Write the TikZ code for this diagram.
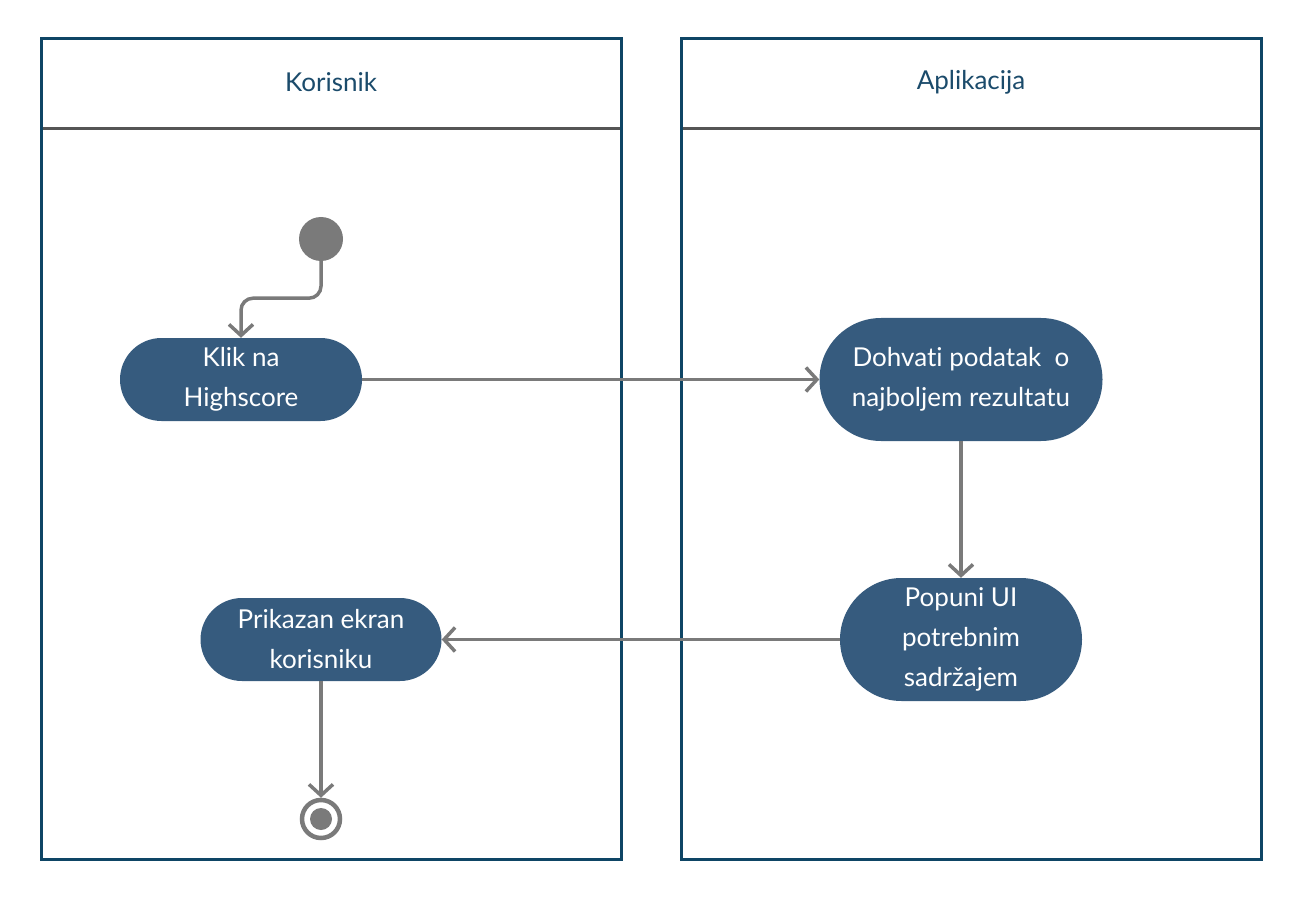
\documentclass[tikz,border=0pt]{standalone}
\usepackage{fontspec}
\setmainfont{Lato}[Ligatures=NoCommon]
\usepackage{tikz}
\usetikzlibrary{positioning,arrows.meta,calc}
\definecolor{laneBlue}{HTML}{0E4565}
\definecolor{headText}{HTML}{1B4B6B}
\definecolor{actFill}{HTML}{365B7E}
\definecolor{flowGray}{HTML}{7A7A7A}
\definecolor{sepGray}{HTML}{555555}
\newcommand{\lane}[3]{%
 \draw[laneBlue, line width=3pt] (#1,39) rectangle (#1+580,859);%
 \draw[sepGray, line width=3pt] (#1+1.5,129) -- (#1+578.5,129);%
 \node[font=\fontsize{26}{30}\selectfont, text=headText] (#2) at (#1+290,82) {#3};}
\newcommand{\act}[6]{%
 \node[fill=actFill, rounded corners=#5/2, minimum width=#4, minimum height=#5, inner sep=0pt, align=center, text=white, font=\fontsize{26}{40}\selectfont] (#1) at (#2,#3) {#6};}

\begin{document}
\begin{tikzpicture}[x=1pt, y=-1pt,
  flow/.style={draw=flowGray, line width=3.5pt, -{Straight Barb[length=11pt, width=24pt, line width=3.5pt]}}]
\useasboundingbox (0,0) rectangle (1301,901);
\lane{41}{korisnik}{Korisnik}
\lane{681}{aplikacija}{Aplikacija}
\node[circle, fill=flowGray, minimum size=44pt, inner sep=0pt] (start) at (321,239) {};
\act{klik}{241}{379.5}{242pt}{83pt}{Klik na\\Highscore}
\act{dohvati}{961}{379.5}{283pt}{123pt}{Dohvati podatak~ o\\najboljem rezultatu}
\act{popuni}{961}{639.5}{242pt}{123pt}{Popuni UI\\potrebnim\\sadržajem}
\act{prikaz}{321}{639.5}{241pt}{83pt}{Prikazan ekran\\korisniku}
\node[circle, draw=flowGray, line width=4.5pt, fill=white, minimum size=38pt, inner sep=0pt] (end) at (321,819) {};
\fill[flowGray] (end) circle (11);
\draw[flow, rounded corners=12pt] (start.south) -- ++(0,37) -| (klik.north);
\draw[flow] (klik.east) -- (dohvati.west);
\draw[flow] (dohvati.south) -- (popuni.north);
\draw[flow] (popuni.west) -- (prikaz.east);
\draw[flow] (prikaz.south) -- (end.north);
\end{tikzpicture}
\end{document}
